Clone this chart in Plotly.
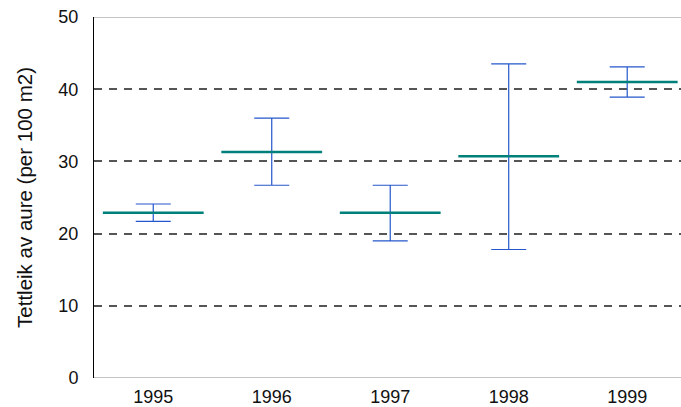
import plotly.graph_objects as go

# Trout density per year: mean with upper/lower confidence limits
years = ["1995", "1996", "1997", "1998", "1999"]
mean_density = [22.9, 31.3, 22.9, 30.7, 41.0]
upper_limit = [24.1, 36.0, 26.7, 43.5, 43.1]
lower_limit = [21.7, 26.7, 19.0, 17.8, 38.9]

y_ticks = [0, 10, 20, 30, 40, 50]

x_pos = list(range(len(years)))
err_plus = [u - m for u, m in zip(upper_limit, mean_density)]
err_minus = [m - l for m, l in zip(mean_density, lower_limit)]

fig = go.Figure()

fig.add_trace(go.Scatter(
    x=x_pos,
    y=mean_density,
    mode="markers",
    marker=dict(
        symbol="line-ew",
        size=72,
        color="#00807a",
        line=dict(color="#00807a", width=2.5),
    ),
    error_y=dict(
        type="data",
        symmetric=False,
        array=err_plus,
        arrayminus=err_minus,
        color="#2457cc",
        thickness=1.2,
        width=17.5,
    ),
    showlegend=False,
    hoverinfo="skip",
))

# light base under the dashed edge lines at 0 and 50
for yv in (y_ticks[0], y_ticks[-1]):
    fig.add_shape(
        type="line", xref="paper", yref="y",
        x0=0, x1=1, y0=yv, y1=yv,
        line=dict(color="#b0b0b0", width=1.5),
        layer="below",
    )

family = "Arial, 'Liberation Sans', sans-serif"
tick_font = dict(family=family, size=18, color="#111111")
title_font = dict(family=family, size=20.5, color="#111111")

fig.update_layout(
    width=681,
    height=407,
    margin=dict(l=94, r=0, t=17, b=29),
    paper_bgcolor="white",
    plot_bgcolor="white",
    font=tick_font,
    xaxis=dict(
        range=[-0.5, 4.454],
        tickvals=x_pos,
        ticktext=years,
        showgrid=False,
        zeroline=False,
        showline=False,
        ticks="outside",
        ticklen=2,
        tickcolor="rgba(0,0,0,0)",
        tickfont=tick_font,
        automargin=False,
    ),
    yaxis=dict(
        range=[0, 50],
        tickvals=y_ticks,
        showgrid=True,
        gridcolor="#555555",
        gridwidth=1.5,
        griddash="8px,7px",
        zeroline=False,
        showline=True,
        linecolor="#000000",
        linewidth=1,
        ticks="outside",
        ticklen=11,
        tickcolor="rgba(0,0,0,0)",
        tickfont=tick_font,
        automargin=False,
        title=dict(text="Tettleik av aure (per 100 m2)", font=title_font, standoff=20),
    ),
)

fig.write_html("out.html")
